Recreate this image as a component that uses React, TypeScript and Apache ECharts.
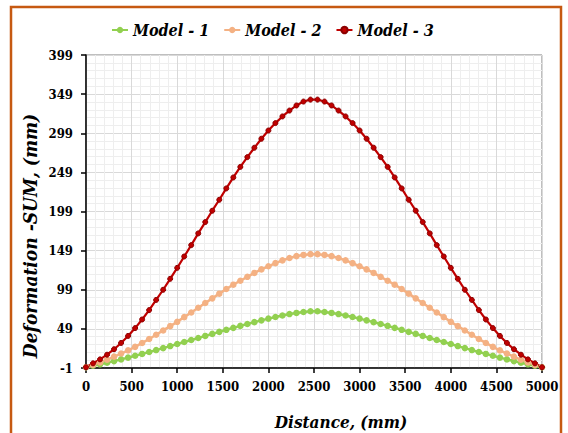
import React, { useEffect, useRef } from "react";
import * as echarts from "echarts";

const distance = [
  0, 76.9, 153.8, 230.8, 307.7, 384.6, 461.5, 538.5, 615.4, 692.3, 769.2,
  846.2, 923.1, 1000, 1076.9, 1153.8, 1230.8, 1307.7, 1384.6, 1461.5, 1538.5,
  1615.4, 1692.3, 1769.2, 1846.2, 1923.1, 2000, 2076.9, 2153.8, 2230.8, 2307.7,
  2384.6, 2461.5, 2538.5, 2615.4, 2692.3, 2769.2, 2846.2, 2923.1, 3000, 3076.9,
  3153.8, 3230.8, 3307.7, 3384.6, 3461.5, 3538.5, 3615.4, 3692.3, 3769.2,
  3846.2, 3923.1, 4000, 4076.9, 4153.8, 4230.8, 4307.7, 4384.6, 4461.5, 4538.5,
  4615.4, 4692.3, 4769.2, 4846.2, 4923.1, 5000,
];

const model1 = [
  0, 1.8, 3.7, 5.7, 7.8, 10, 12.3, 14.6, 17, 19.4, 21.9, 24.4, 27, 29.6, 32.2,
  34.8, 37.4, 40, 42.6, 45.2, 47.8, 50.3, 52.8, 55.2, 57.6, 59.9, 62.1, 64.2,
  66.1, 67.9, 69.4, 70.6, 71.5,
  71.5, 70.6, 69.4, 67.9, 66.1, 64.2, 62.1, 59.9, 57.6, 55.2, 52.8, 50.3, 47.8,
  45.2, 42.6, 40, 37.4, 34.8, 32.2, 29.6, 27, 24.4, 21.9, 19.4, 17, 14.6, 12.3,
  10, 7.8, 5.7, 3.7, 1.8, 0,
];

const model2 = [
  0, 3, 6, 9.5, 13.5, 17.5, 21.5, 26, 31, 36, 41.5, 47, 52.5, 58, 64, 70, 76,
  82, 88, 94, 100, 105.5, 110.5, 115.5, 120.5, 125, 129, 133, 136.5, 139.5, 142,
  143.5, 144.5,
  144.5, 143.5, 142, 139.5, 136.5, 133, 129, 125, 120.5, 115.5, 110.5, 105.5,
  100, 94, 88, 82, 76, 70, 64, 58, 52.5, 47, 41.5, 36, 31, 26, 21.5, 17.5, 13.5,
  9.5, 6, 3, 0,
];

const model3 = [
  0, 5, 10, 16, 23, 31, 40, 50, 61, 73, 86, 99, 113, 127, 141.5, 156, 171,
  185.5, 200, 214, 228.5, 242.5, 256, 268.5, 280.5, 292, 302.5, 312, 320.5, 328,
  334.5, 339.5, 342,
  342, 339.5, 334.5, 328, 320.5, 312, 302.5, 292, 280.5, 268.5, 256, 242.5,
  228.5, 214, 200, 185.5, 171, 156, 141.5, 127, 113, 99, 86, 73, 61, 50, 40, 31,
  23, 16, 10, 5, 0,
];

const seriesNames = ["Model - 1", "Model - 2", "Model - 3"];
const xTitle = "Distance, (mm)";
const yTitle = "Deformation -SUM, (mm)";

export default function App() {
  const ref = useRef<HTMLDivElement>(null);

  useEffect(() => {
    const chart = echarts.init(ref.current!, null, { renderer: "svg" });
    const font = "DejaVu Serif Condensed, DejaVu Serif";
    const pairs = (ys: number[]) => distance.map((d, i) => [d, ys[i]]);
    const colors = ["#92D050", "#F4B183", "#C00000"];

    chart.setOption({
      animation: false,
      backgroundColor: "#ffffff",
      graphic: [
        {
          type: "rect",
          shape: { x: 11, y: 7, width: 550, height: 450 },
          style: { fill: "none", stroke: "#C65911", lineWidth: 2.5 },
          silent: true,
        },
        {
          type: "text",
          x: 341,
          y: 422,
          style: {
            text: xTitle,
            align: "center",
            verticalAlign: "middle",
            fontFamily: font,
            fontSize: 17,
            fontWeight: "bold",
            fontStyle: "italic",
            fill: "#000",
          },
        },
        {
          type: "text",
          x: 30,
          y: 236,
          rotation: Math.PI / 2,
          style: {
            text: yTitle,
            align: "center",
            verticalAlign: "middle",
            fontFamily: font,
            fontSize: 19,
            fontWeight: "bold",
            fontStyle: "italic",
            fill: "#000",
          },
        },
      ],
      legend: {
        data: seriesNames,
        left: 106,
        top: 17,
        itemWidth: 16,
        itemHeight: 8,
        itemGap: 14,
        textStyle: {
          fontFamily: font,
          fontSize: 16,
          fontWeight: "bold",
          fontStyle: "italic",
          color: "#000",
        },
      },
      grid: {
        left: 86,
        right: 26,
        top: 55,
        bottom: 65,
        show: true,
        borderColor: "#7f7f7f",
        borderWidth: 1,
        backgroundColor: "transparent",
      },
      xAxis: {
        type: "value",
        min: 0,
        max: 5000,
        interval: 500,
        axisLine: { show: true, onZero: false, lineStyle: { color: "#000", width: 1.5 } },
        axisTick: { show: true, length: 5, lineStyle: { color: "#000", width: 1.5 } },
        axisLabel: {
          margin: 12,
          fontFamily: font,
          fontSize: 13,
          fontWeight: "bold",
          color: "#000",
          formatter: (v: number) => String(v),
        },
        splitLine: { show: true, lineStyle: { color: "#d9d9d9", width: 1 } },
        minorTick: { show: false, splitNumber: 5 },
        minorSplitLine: { show: true, lineStyle: { color: "#eeeeee", width: 1 } },
      },
      yAxis: {
        type: "value",
        min: -1,
        max: 399,
        interval: 50,
        axisLine: { show: true, onZero: false, lineStyle: { color: "#000", width: 1.5 } },
        axisTick: { show: true, length: 5, lineStyle: { color: "#000", width: 1.5 } },
        axisLabel: {
          margin: 13,
          fontFamily: font,
          fontSize: 13,
          fontWeight: "bold",
          color: "#000",
          formatter: (v: number) => String(v),
        },
        splitLine: { show: true, lineStyle: { color: "#d9d9d9", width: 1 } },
        minorTick: { show: false, splitNumber: 5 },
        minorSplitLine: { show: true, lineStyle: { color: "#eeeeee", width: 1 } },
      },
      series: [
        {
          type: "line",
          name: seriesNames[0],
          data: pairs(model1),
          symbol: "circle",
          symbolSize: 6.5,
          lineStyle: { width: 2.5, color: colors[0] },
          itemStyle: { color: colors[0] },
        },
        {
          type: "line",
          name: seriesNames[1],
          data: pairs(model2),
          symbol: "circle",
          symbolSize: 6.5,
          lineStyle: { width: 2.5, color: colors[1] },
          itemStyle: { color: colors[1] },
        },
        {
          type: "line",
          name: seriesNames[2],
          data: pairs(model3),
          symbol: "circle",
          symbolSize: 5,
          lineStyle: { width: 2.2, color: colors[2] },
          itemStyle: { color: colors[2], borderColor: "#8B0000", borderWidth: 1 },
        },
      ],
    });

    return () => chart.dispose();
  }, []);

  return (
    <div
      ref={ref}
      style={{ position: "fixed", left: 0, top: 0, width: 568, height: 433 }}
    />
  );
}
